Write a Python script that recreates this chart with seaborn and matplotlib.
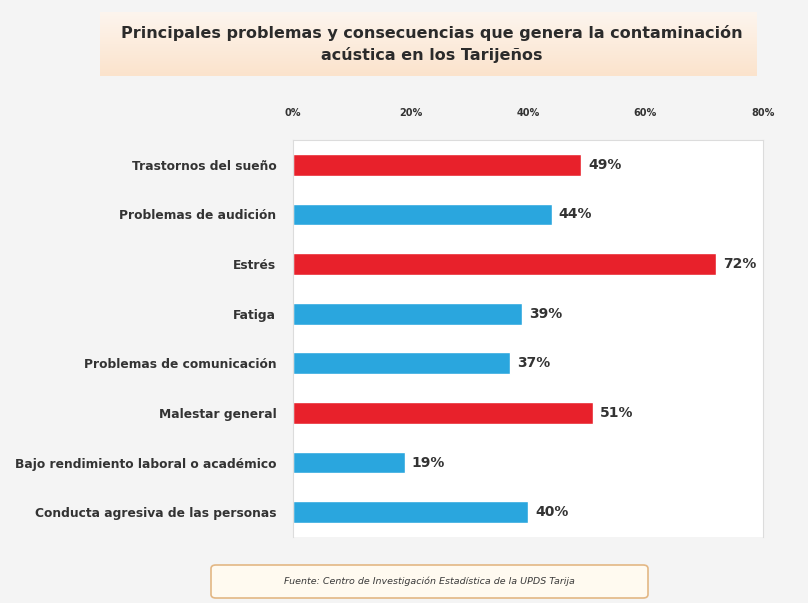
import matplotlib
matplotlib.use("Agg")
import matplotlib.pyplot as plt
import numpy as np
import pandas as pd
import seaborn as sns
from matplotlib.patches import FancyBboxPatch

categories = [
    "Trastornos del sueño",
    "Problemas de audición",
    "Estrés",
    "Fatiga",
    "Problemas de comunicación",
    "Malestar general",
    "Bajo rendimiento laboral o académico",
    "Conducta agresiva de las personas",
]
values = [49, 44, 72, 39, 37, 51, 19, 40]
highlight = [True, False, True, False, False, True, False, False]
x_ticks = [0, 20, 40, 60, 80]

title = "Principales problemas y consecuencias que genera la contaminación\nacústica en los Tarijeños"
source = "Fuente: Centro de Investigación Estadística de la UPDS Tarija"

RED = "#e8212b"
BLUE = "#2aa6de"
TEXT = "#333333"

sns.set_theme(style="white")
plt.rcParams["font.family"] = ["DejaVu Sans"]

fig = plt.figure(figsize=(8.08, 6.03), dpi=100)
fig.patch.set_facecolor("#f4f4f4")

# title band with a soft peach gradient
tax = fig.add_axes([100 / 808, 1 - 76 / 603, 657 / 808, 64 / 603])
grad = np.linspace(0, 1, 100).reshape(-1, 1)
tax.imshow(grad, aspect="auto", cmap=matplotlib.colors.LinearSegmentedColormap.from_list(
    "band", ["#fdf5ee", "#fbe3cc"]), extent=[0, 1, 0, 1], origin="upper")
tax.set_axis_off()
fig.text(432 / 808, 1 - 44 / 603, title, ha="center", va="center",
         fontsize=11.5, fontweight="bold", color="#2b2b2b", linespacing=1.5)

df = pd.DataFrame({"cat": categories, "val": values})
palette = {c: (RED if h else BLUE) for c, h in zip(categories, highlight)}

ax = fig.add_axes([293 / 808, 1 - 537 / 603, 470 / 808, 397 / 603])
ax.set_facecolor("white")
sns.barplot(data=df, x="val", y="cat", hue="cat", palette=palette,
            legend=False, width=0.44, saturation=1, ax=ax)

ax.set_xlim(0, 80)
ax.set_xticks(x_ticks)
ax.set_xticklabels([f"{t}%" for t in x_ticks])
ax.xaxis.tick_top()
ax.tick_params(axis="x", length=0, pad=16, labelsize=7, labelcolor=TEXT)
ax.tick_params(axis="y", length=0, pad=12, labelsize=8.8, labelcolor=TEXT)
for lab in ax.get_xticklabels():
    lab.set_fontweight("bold")
for lab in ax.get_yticklabels():
    lab.set_fontweight("bold")
ax.set_xlabel("")
ax.set_ylabel("")
for side in ["top", "left", "right"]:
    ax.spines[side].set_color("#dcdcdc")
    ax.spines[side].set_linewidth(0.8)
ax.spines["bottom"].set_visible(False)

for i, v in enumerate(values):
    ax.text(v + 1.2, i, f"{v}%", va="center", ha="left",
            fontsize=10, fontweight="bold", color=TEXT)

# source box
box = FancyBboxPatch((211 / 808, 1 - 598 / 603), 437 / 808, 33 / 603,
                     boxstyle="round,pad=0,rounding_size=0.006",
                     transform=fig.transFigure, facecolor="#fffaf0",
                     edgecolor="#e3b784", linewidth=1.2)
fig.patches.append(box)
fig.text(429 / 808, 1 - 581 / 603, source, ha="center", va="center",
         fontsize=6.8, fontstyle="italic", color="#3a3a3a")

fig.savefig("out.png", dpi=100, facecolor=fig.get_facecolor())
